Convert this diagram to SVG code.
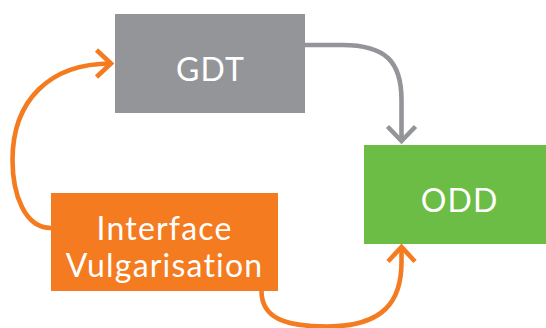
<svg xmlns="http://www.w3.org/2000/svg" width="546" height="328" viewBox="0 0 546 328">
  <style>
    .box-gray { fill: #939598; }
    .box-green { fill: #6cbd45; }
    .box-orange { fill: #f47b20; }
    .label { font-family: Lato, "Open Sans", "Liberation Sans", sans-serif; font-size: 32px; letter-spacing: 1.2px; fill: #ffffff; text-anchor: middle; }
    .link { fill: none; stroke-width: 4.6; }
    .link-gray { stroke: #939598; }
    .link-orange { stroke: #f47b20; }
  </style>
  <defs>
    <marker id="chevron-gray" markerUnits="userSpaceOnUse" orient="auto" markerWidth="40" markerHeight="40" refX="0" refY="0" viewBox="-20 -20 40 40" overflow="visible">
      <path d="M-14.5,-14 L0,0 L-14.5,14" fill="none" stroke="#939598" stroke-width="4.6"/>
    </marker>
    <marker id="chevron-orange" markerUnits="userSpaceOnUse" orient="auto" markerWidth="40" markerHeight="40" refX="0" refY="0" viewBox="-20 -20 40 40" overflow="visible">
      <path d="M-14.5,-13.5 L0,0 L-14.5,13.5" fill="none" stroke="#f47b20" stroke-width="4.6"/>
    </marker>
  </defs>

  <g id="connectors">
    <path class="link link-gray" d="M305,45 L342,45 C386,45 401.5,62 401.5,100 L401.5,141" marker-end="url(#chevron-gray)"/>
    <path class="link link-orange" d="M51,228 C25,228 12.5,195 12.5,160 C12.5,100 50,63.5 111,63.5" marker-end="url(#chevron-orange)"/>
    <path class="link link-orange" d="M261.5,291 C261.5,318 285,326.5 327,326.5 C385,326.5 401.5,300 401.5,262 L401.5,247" marker-end="url(#chevron-orange)"/>
  </g>

  <g id="gdt">
    <rect class="box-gray" x="115" y="14" width="190" height="99"/>
    <text class="label" x="210.6" y="81">GDT</text>
  </g>

  <g id="odd">
    <rect class="box-green" x="364" y="145" width="190" height="99"/>
    <text class="label" x="459.6" y="212">ODD</text>
  </g>

  <g id="interface-vulgarisation">
    <rect class="box-orange" x="51" y="193" width="227" height="98"/>
    <text class="label" x="164.6" y="240">Interface</text>
    <text class="label" x="164.6" y="277">Vulgarisation</text>
  </g>
</svg>
